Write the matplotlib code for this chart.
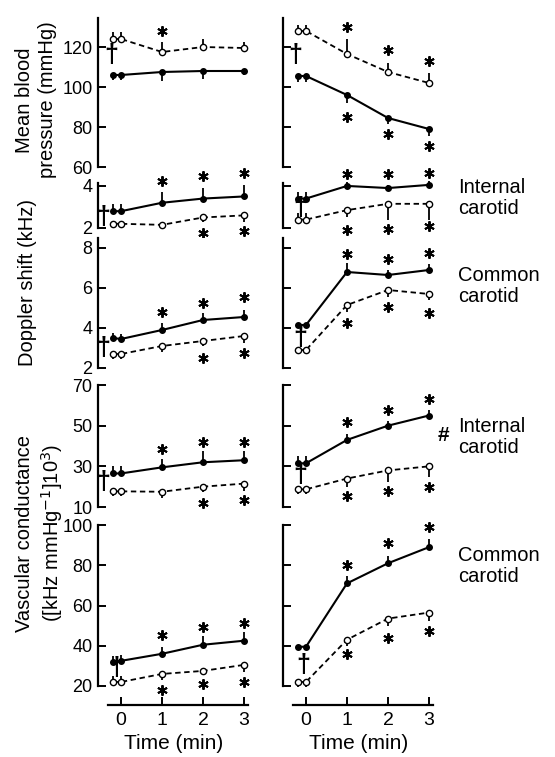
import matplotlib
matplotlib.use("Agg")
import matplotlib.pyplot as plt

plt.rcParams['font.family'] = ['Liberation Sans', 'DejaVu Sans']

W, H = 555, 757
time = [-0.2, 0, 1, 2, 3]

# Mean blood pressure (mmHg)
mbp_L_closed = [106, 106, 107.5, 108, 108]
mbp_L_closed_err = [-2.5, -2.5, -4.5, -4, -2]
mbp_L_open = [124, 124, 117.5, 120, 119.5]
mbp_L_open_err = [3.5, 3.5, 5, 4, 3]
mbp_L_ast_x = [1]
mbp_L_ast_y = [128]
mbp_L_dagger = (-0.24, 116)

mbp_R_closed = [105.5, 105.5, 96, 84.5, 79]
mbp_R_closed_err = [-3, -3, -4, -3, -3.5]
mbp_R_open = [128, 128, 116.5, 107.5, 102]
mbp_R_open_err = [3, 3, 7.5, 4.5, 5]
mbp_R_ast_x = [1, 2, 3, 1, 2, 3]
mbp_R_ast_y = [130, 118.5, 113, 85, 76.5, 70.5]
mbp_R_dagger = (-0.27, 116)

# Doppler shift, internal carotid (kHz)
dopi_L_closed = [2.8, 2.8, 3.2, 3.4, 3.5]
dopi_L_closed_err = [0.35, 0.35, 0.5, 0.5, 0.55]
dopi_L_open = [2.2, 2.2, 2.15, 2.5, 2.6]
dopi_L_open_err = [-0.1, -0.1, -0.15, -0.2, -0.3]
dopi_L_ast_x = [1, 2, 3, 2, 3]
dopi_L_ast_y = [4.25, 4.45, 4.6, 1.75, 1.85]
dopi_L_dagger = (-0.44, 2.5)

dopi_R_closed = [3.4, 3.4, 4.0, 3.9, 4.05]
dopi_R_closed_err = [0.3, 0.3, 0.2, 0.15, 0.2]
dopi_R_open = [2.4, 2.4, 2.85, 3.15, 3.15]
dopi_R_open_err = [0.3, 0.3, -0.35, -0.75, -0.75]
dopi_R_ast_x = [1, 2, 3, 1, 2, 3]
dopi_R_ast_y = [4.55, 4.55, 4.6, 1.9, 1.95, 2.1]
dopi_R_dagger = (-0.15, 2.95)

# Doppler shift, common carotid (kHz)
dopc_L_closed = [3.5, 3.45, 3.9, 4.4, 4.55]
dopc_L_closed_err = [0.25, 0.25, 0.35, 0.35, 0.35]
dopc_L_open = [2.7, 2.7, 3.1, 3.35, 3.6]
dopc_L_open_err = [-0.25, -0.25, -0.3, -0.25, -0.35]
dopc_L_ast_x = [1, 2, 3, 2, 3]
dopc_L_ast_y = [4.8, 5.25, 5.55, 2.5, 2.75]
dopc_L_dagger = (-0.44, 3.0)

dopc_R_closed = [4.15, 4.15, 6.8, 6.65, 6.9]
dopc_R_closed_err = [0.1, 0.1, 0.45, 0.25, 0.3]
dopc_R_open = [2.9, 2.9, 5.15, 5.9, 5.7]
dopc_R_open_err = [-0.2, -0.2, -0.35, -0.35, -0.3]
dopc_R_ast_x = [1, 2, 3, 1, 2, 3]
dopc_R_ast_y = [7.7, 7.45, 7.75, 4.25, 5.05, 4.75]
dopc_R_dagger = (-0.15, 3.5)

# Vascular conductance, internal carotid
condi_L_closed = [26.5, 26.5, 29.5, 32, 33]
condi_L_closed_err = [3.5, 3.5, 4, 5.5, 4.5]
condi_L_open = [17.7, 17.7, 17.5, 20, 21.5]
condi_L_open_err = [-2.5, -2.5, -3, -2.7, -3.5]
condi_L_ast_x = [1, 2, 3, 2, 3]
condi_L_ast_y = [38.5, 42, 42, 12, 13.5]
condi_L_dagger = (-0.44, 22.5)

condi_R_closed = [31.5, 31.5, 43, 50, 55]
condi_R_closed_err = [3.5, 3.5, 3, 2.5, 2.5]
condi_R_open = [18.7, 18.7, 24, 28, 30]
condi_R_open_err = [-2.2, -2.2, -4.3, -5.5, -5]
condi_R_ast_x = [1, 2, 3, 1, 2, 3]
condi_R_ast_y = [52, 57.5, 63, 15.3, 18, 20]
condi_R_dagger = (-0.15, 25.5)

# Vascular conductance, common carotid
condc_L_closed = [32, 32.5, 36, 40.5, 42.5]
condc_L_closed_err = [3, 3, 3.5, 4.5, 4.5]
condc_L_open = [22, 22, 26, 27.5, 30.5]
condc_L_open_err = [3, 3, -3, -2, -3.5]
condc_L_ast_x = [1, 2, 3, 1, 2, 3]
condc_L_ast_y = [45.5, 49.5, 51.5, 18, 21, 22]
condc_L_dagger = (-0.12, 29)

condc_R_closed = [39.5, 39.5, 71, 81, 89]
condc_R_closed_err = [1, 1, 3.5, 3.5, 4]
condc_R_open = [22, 22, 43, 53.5, 56.5]
condc_R_open_err = [-2.5, -2.5, -3, -3.5, -4]
condc_R_ast_x = [1, 2, 3, 1, 2, 3]
condc_R_ast_y = [80, 91, 99, 36, 44, 47.5]
condc_R_dagger = (-0.07, 30.5)

# axis settings per row: (top px, bottom px, ylim, yticks)
rows = [
    (18, 167, (60, 134.5), [60, 80, 100, 120]),
    (183, 228, (2, 4.14), [2, 4]),
    (238, 368, (2, 8.5), [2, 4, 6, 8]),
    (385, 507, (10, 70), [10, 30, 50, 70]),
    (525, 686, (20, 100), [20, 40, 60, 80, 100]),
]
left_cols = [98, 283]
col_w = 152
xlim = (-0.561, 3.146)

panels = [
    [(mbp_L_closed, mbp_L_closed_err, mbp_L_open, mbp_L_open_err, mbp_L_ast_x, mbp_L_ast_y, mbp_L_dagger),
     (mbp_R_closed, mbp_R_closed_err, mbp_R_open, mbp_R_open_err, mbp_R_ast_x, mbp_R_ast_y, mbp_R_dagger)],
    [(dopi_L_closed, dopi_L_closed_err, dopi_L_open, dopi_L_open_err, dopi_L_ast_x, dopi_L_ast_y, dopi_L_dagger),
     (dopi_R_closed, dopi_R_closed_err, dopi_R_open, dopi_R_open_err, dopi_R_ast_x, dopi_R_ast_y, dopi_R_dagger)],
    [(dopc_L_closed, dopc_L_closed_err, dopc_L_open, dopc_L_open_err, dopc_L_ast_x, dopc_L_ast_y, dopc_L_dagger),
     (dopc_R_closed, dopc_R_closed_err, dopc_R_open, dopc_R_open_err, dopc_R_ast_x, dopc_R_ast_y, dopc_R_dagger)],
    [(condi_L_closed, condi_L_closed_err, condi_L_open, condi_L_open_err, condi_L_ast_x, condi_L_ast_y, condi_L_dagger),
     (condi_R_closed, condi_R_closed_err, condi_R_open, condi_R_open_err, condi_R_ast_x, condi_R_ast_y, condi_R_dagger)],
    [(condc_L_closed, condc_L_closed_err, condc_L_open, condc_L_open_err, condc_L_ast_x, condc_L_ast_y, condc_L_dagger),
     (condc_R_closed, condc_R_closed_err, condc_R_open, condc_R_open_err, condc_R_ast_x, condc_R_ast_y, condc_R_dagger)],
]

fig = plt.figure(figsize=(W / 100, H / 100), dpi=100)

axes = {}
for r, (top, bot, ylim, yticks) in enumerate(rows):
    for c, left in enumerate(left_cols):
        ax = fig.add_axes([left / W, 1 - bot / H, col_w / W, (bot - top) / H])
        axes[(r, c)] = ax
        closed, cerr, opened, oerr, ast_x, ast_y, dagger = panels[r][c]

        # one-sided error bars
        ax.vlines(time, closed, [v + e for v, e in zip(closed, cerr)], color='k', lw=1.3, clip_on=False)
        ax.vlines(time, opened, [v + e for v, e in zip(opened, oerr)], color='k', lw=1.3, clip_on=False)
        ax.plot(time, closed, '-', color='k', lw=1.5, marker='o', ms=4, mfc='k', mec='k', clip_on=False, zorder=3)
        ax.plot(time, opened, '--', dashes=(3, 2), color='k', lw=1.3, marker='o', ms=4.5, mfc='white', mec='k',
                mew=1.0, clip_on=False, zorder=3)
        ax.plot(ast_x, ast_y, ls='none', marker=(6, 2, 0), ms=7.5, mew=1.4, color='k', clip_on=False)
        ax.text(dagger[0], dagger[1], '\u2020', fontsize=18, fontweight='bold', ha='center', va='center')

        ax.set_xlim(*xlim)
        ax.set_ylim(*ylim)
        ax.set_yticks(yticks)
        for s in ['top', 'right']:
            ax.spines[s].set_visible(False)
        ax.spines['left'].set_linewidth(1.6)
        ax.tick_params(axis='y', direction='in', length=6, width=1.4, labelsize=13, pad=4)
        if c == 1:
            ax.tick_params(axis='y', labelleft=False)
        if r == len(rows) - 1:
            ax.spines['bottom'].set_position(('outward', 14))
            ax.spines['bottom'].set_bounds(-0.32, 3.1)
            ax.spines['bottom'].set_linewidth(1.6)
            ax.set_xticks([0, 1, 2, 3])
            ax.tick_params(axis='x', direction='in', length=6, width=1.4, labelsize=14, pad=5)
            ax.set_xlabel('Time (min)', fontsize=15, labelpad=3)
        else:
            ax.spines['bottom'].set_visible(False)
            ax.set_xticks([])

# the "#" mark next to the internal carotid conductance panel
axes[(3, 1)].text(3.34, 45, '#', fontsize=15, ha='center', va='center', fontweight='bold')

# left-hand labels
fig.text(36 / W, 1 - 100 / H, 'Mean blood\npressure (mmHg)', rotation=90, ha='center', va='center',
         fontsize=14.5, linespacing=1.25, multialignment='center')
fig.text(28 / W, 1 - 283 / H, 'Doppler shift (kHz)', rotation=90, ha='center', va='center', fontsize=14.5)
fig.text(40 / W, 1 - 533 / H, 'Vascular conductance\n([kHz mmHg$^{-1}$]10$^3$)', rotation=90,
         ha='center', va='center', fontsize=14.5, linespacing=1.25, multialignment='center')

# right-hand labels
for ytop, txt in [(187, 'Internal\ncarotid'), (275, 'Common\ncarotid'),
                  (426, 'Internal\ncarotid'), (555, 'Common\ncarotid')]:
    fig.text(458 / W, 1 - (ytop - 9) / H, txt, ha='left', va='top', fontsize=14.5, linespacing=1.15)

fig.savefig('out.png', dpi=100)
